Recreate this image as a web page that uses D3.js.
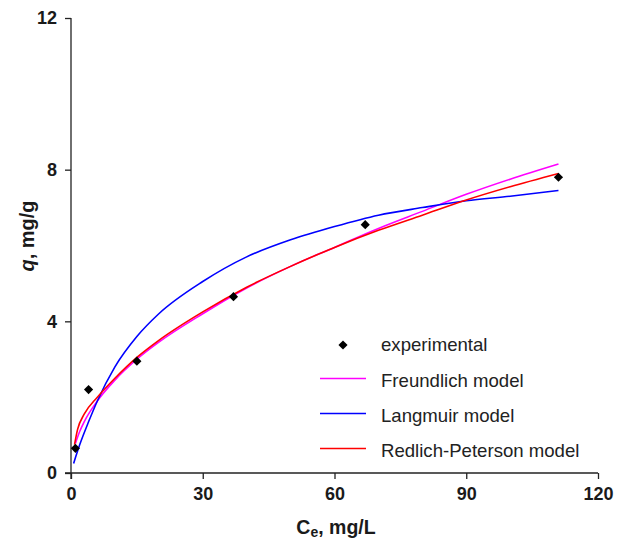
<!DOCTYPE html>
<html>
<head>
<script src="https://d3js.org/d3.v7.min.js"></script>
<style>
  body { margin: 0; background: #fff; }
  svg text { font-family: "Liberation Sans", Arial, sans-serif; }
  .axis text { font-size: 18px; font-weight: bold; fill: #1a1a1a; }
  .axis path, .axis line { stroke: #222; stroke-width: 1.3; }
  .legend text { font-size: 18.6px; fill: #222; }
</style>
</head>
<body>
<svg id="chart" width="624" height="539"></svg>
<script>
// experimental points (Ce, q)
var expC = [1, 4, 15, 37, 67, 111];
var expQ = [0.65, 2.2, 2.95, 4.65, 6.55, 7.8];

// model curves
var freundC = [1, 2, 3, 6, 10, 15, 20, 30, 40, 50, 60, 70, 80, 90, 100, 111];
var freundQ = [0.78, 1.1, 1.35, 1.9, 2.45, 3.0, 3.45, 4.2, 4.88, 5.45, 5.95, 6.45, 6.9, 7.35, 7.75, 8.15];

var langC = [0.6, 1, 2, 4, 6, 10, 15, 20, 30, 40, 50, 60, 70, 80, 90, 100, 111];
var langQ = [0.25, 0.4, 0.75, 1.35, 1.9, 2.8, 3.6, 4.2, 5.05, 5.7, 6.15, 6.5, 6.8, 7.0, 7.18, 7.3, 7.45];

var rpC = [0.8, 1.5, 3, 6, 10, 15, 20, 30, 40, 50, 60, 70, 80, 90, 100, 111];
var rpQ = [0.75, 1.15, 1.55, 2.0, 2.5, 3.05, 3.5, 4.25, 4.9, 5.45, 5.95, 6.4, 6.8, 7.2, 7.55, 7.9];

var xTicks = [0, 30, 60, 90, 120];
var yTicks = [0, 4, 8, 12];

var series = [
  { name: "Freundlich model", c: freundC, q: freundQ, color: "#ff00ff" },
  { name: "Langmuir model", c: langC, q: langQ, color: "#0000ff" },
  { name: "Redlich-Peterson model", c: rpC, q: rpQ, color: "#ff0000" }
];

var svg = d3.select("#chart");
var margin = { left: 71, right: 26, top: 18, bottom: 66 };
var width = 624 - margin.left - margin.right,
    height = 539 - margin.top - margin.bottom;

var x = d3.scaleLinear().domain([0, 120]).range([0, width]);
var y = d3.scaleLinear().domain([0, 12]).range([height, 0]);

var g = svg.append("g").attr("transform", "translate(" + margin.left + "," + margin.top + ")");

g.append("g")
  .attr("class", "axis")
  .attr("transform", "translate(0," + height + ")")
  .call(d3.axisBottom(x).tickValues(xTicks).tickSize(6).tickSizeOuter(0).tickPadding(8))
  .call(function (a) { a.select(".domain").attr("d", "M-6,0H" + width); });

g.append("g")
  .attr("class", "axis")
  .call(d3.axisLeft(y).tickValues(yTicks).tickSize(6).tickSizeOuter(0).tickPadding(8))
  .call(function (a) { a.select(".domain").attr("d", "M0," + (height + 6) + "V0"); });

var line = d3.line()
  .x(function (d) { return x(d[0]); })
  .y(function (d) { return y(d[1]); })
  .curve(d3.curveMonotoneX);

series.forEach(function (s) {
  var pts = s.c.map(function (c, i) { return [c, s.q[i]]; });
  g.append("path")
    .datum(pts)
    .attr("fill", "none")
    .attr("stroke", s.color)
    .attr("stroke-width", 1.6)
    .attr("d", line);
});

var diamond = d3.symbol().type(d3.symbolSquare).size(42);
g.selectAll(".pt")
  .data(expC.map(function (c, i) { return [c, expQ[i]]; }))
  .enter().append("path")
  .attr("class", "pt")
  .attr("d", diamond)
  .attr("fill", "#000")
  .attr("transform", function (d) { return "translate(" + x(d[0]) + "," + y(d[1]) + ") rotate(45)"; });

// legend
var leg = svg.append("g").attr("class", "legend");
leg.append("path")
  .attr("d", diamond)
  .attr("fill", "#000")
  .attr("transform", "translate(343,345) rotate(45)");
leg.append("text").attr("x", 381).attr("y", 351).text("experimental");
series.forEach(function (s, i) {
  var ly = 378.5 + i * 35;
  leg.append("line")
    .attr("x1", 320).attr("x2", 366)
    .attr("y1", ly).attr("y2", ly)
    .attr("stroke", s.color).attr("stroke-width", 1.6);
  leg.append("text").attr("x", 381).attr("y", ly + 8.5).text(s.name);
});

// axis titles
var yt = svg.append("text")
  .attr("transform", "translate(34,236) rotate(-90)")
  .attr("text-anchor", "middle")
  .style("font-size", "20px").style("font-weight", "bold").attr("fill", "#1a1a1a");
yt.append("tspan").style("font-style", "italic").text("q");
yt.append("tspan").text(", mg/g");

var xt = svg.append("text")
  .attr("x", 336).attr("y", 534)
  .attr("text-anchor", "middle")
  .style("font-size", "19.5px").style("font-weight", "bold").attr("fill", "#1a1a1a");
xt.append("tspan").text("C");
xt.append("tspan").attr("dy", 3).style("font-size", "14px").text("e");
xt.append("tspan").attr("dy", -3).text(", mg/L");
</script>
</body>
</html>
